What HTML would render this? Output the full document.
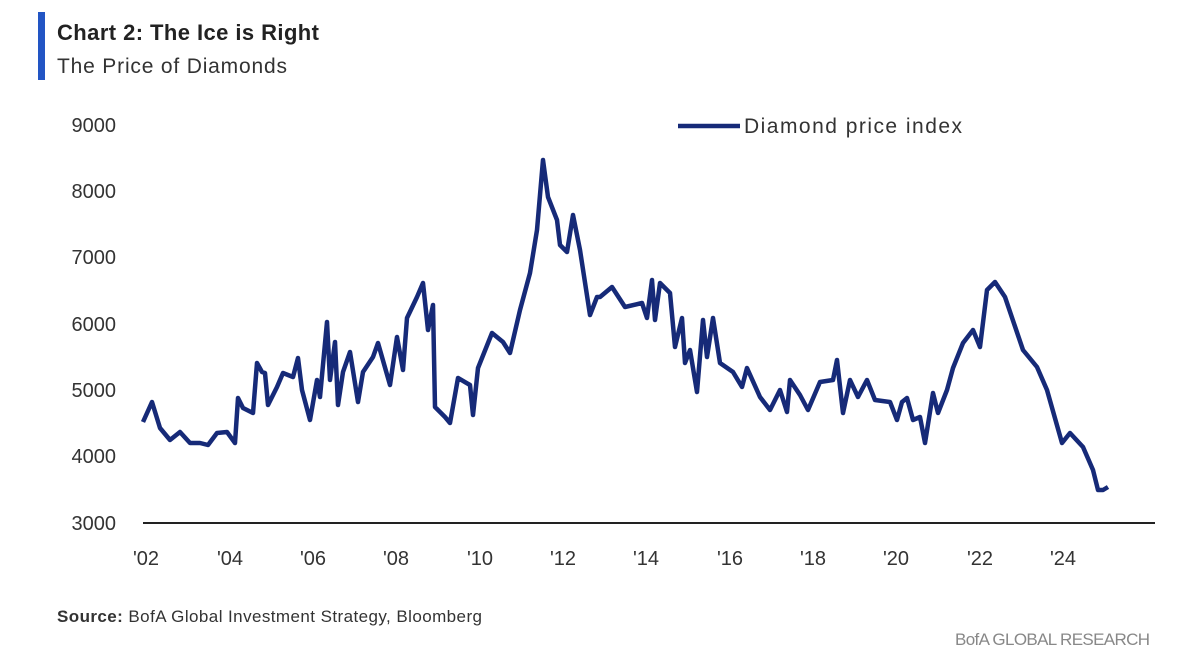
<!DOCTYPE html>
<html><head><meta charset="utf-8"><style>
body{margin:0;width:1179px;height:660px;background:#fff;overflow:hidden;font-family:"Liberation Sans",sans-serif;}
</style></head><body>
<svg width="1179" height="660" xmlns="http://www.w3.org/2000/svg" font-family="Liberation Sans, sans-serif">
<rect x="38" y="12" width="7" height="68" fill="#2255c4"/>
<text x="57" y="40" font-size="22" font-weight="bold" fill="#222" textLength="262">Chart 2: The Ice is Right</text>
<text x="57" y="73" font-size="21" fill="#333" textLength="230">The Price of Diamonds</text>
<g font-size="20" fill="#333" text-anchor="end">
<text x="116" y="132">9000</text><text x="116" y="198">8000</text><text x="116" y="264">7000</text>
<text x="116" y="331">6000</text><text x="116" y="397">5000</text><text x="116" y="463">4000</text><text x="116" y="530">3000</text>
</g>
<line x1="143" y1="523" x2="1155" y2="523" stroke="#222" stroke-width="2"/>
<g font-size="20" fill="#333" text-anchor="middle">
<text x="146" y="565">'02</text><text x="230" y="565">'04</text><text x="313" y="565">'06</text><text x="396" y="565">'08</text>
<text x="480" y="565">'10</text><text x="563" y="565">'12</text><text x="646" y="565">'14</text><text x="730" y="565">'16</text>
<text x="813" y="565">'18</text><text x="896" y="565">'20</text><text x="980" y="565">'22</text><text x="1063" y="565">'24</text>
</g>
<line x1="678" y1="126" x2="740" y2="126" stroke="#162a78" stroke-width="4.5"/>
<text x="744" y="133" font-size="21" fill="#333" textLength="218">Diamond price index</text>
<polyline fill="none" stroke="#162a78" stroke-width="4.5" stroke-linejoin="round" points="143,422 152,402 160,428 170,440 180,432 190,443 200,443 208,445 217,433 227,432 235,443 238,398 243,408 253,413 257,363 262,372 265,373 268,405 277,387 283,373 293,377 298,358 302,390 310,420 317,380 320,397 327,322 330,380 335,342 338,405 343,372 350,352 358,402 363,372 373,357 378,343 390,385 397,337 403,370 407,318 417,297 423,283 428,330 433,305 435,407 445,417 450,423 458,378 470,385 473,415 478,368 492,333 503,342 510,353 520,310 530,273 537,230 543,160 548,197 557,220 560,245 567,252 573,215 580,250 590,315 597,297 600,297 612,287 625,307 642,303 647,318 652,280 655,320 660,283 670,293 675,347 682,318 685,363 690,350 697,392 703,320 707,357 713,318 720,363 733,372 742,387 747,368 760,397 770,410 780,390 787,412 790,380 800,395 808,410 820,382 833,380 837,360 843,413 850,380 858,397 867,380 875,400 890,402 897,420 902,402 907,398 913,420 920,417 925,443 933,393 938,413 947,390 953,368 963,343 973,330 980,347 987,290 995,282 1005,297 1023,350 1037,367 1047,390 1062,443 1070,433 1083,447 1093,470 1098,490 1103,490 1108,487"/>
<text x="57" y="622" font-size="17" fill="#333" textLength="425"><tspan font-weight="bold">Source:</tspan> BofA Global Investment Strategy, Bloomberg</text>
<text x="1150" y="645" font-size="17" fill="#888" text-anchor="end" textLength="195">BofA GLOBAL RESEARCH</text>
</svg>
</body></html>
